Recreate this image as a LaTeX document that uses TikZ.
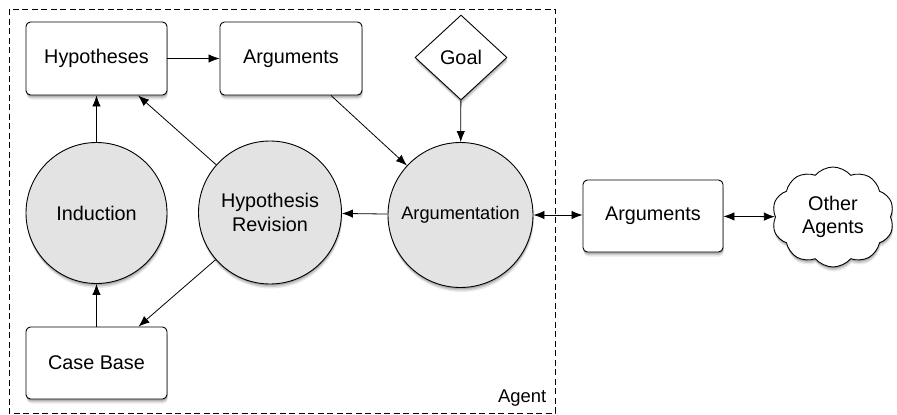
\documentclass[tikz,border=0pt]{standalone}
\usepackage{fontspec}
\setmainfont{Liberation Sans}
\usetikzlibrary{arrows.meta,shapes.geometric,shapes.symbols,shadows}
\begin{document}
\begin{tikzpicture}[x=1pt,y=-1pt,
  base/.style={draw=black,line width=0.9pt,font=\fontsize{19.8}{23.5}\selectfont,align=center,inner sep=0pt,
    drop shadow={shadow xshift=0.3pt,shadow yshift=-1.5pt,opacity=0.25,fill=black!70},
    drop shadow={shadow xshift=0.5pt,shadow yshift=-3pt,opacity=0.2,fill=black!70},
    drop shadow={shadow xshift=0.8pt,shadow yshift=-4.5pt,opacity=0.12,fill=black!70}},
  boxnode/.style={base,rectangle,rounded corners=4.5pt,fill=white,minimum width=141pt,minimum height=73pt},
  circnode/.style={base,circle,fill=black!11},
  tip/.tip={Latex[length=11pt,width=8.5pt]},
  arr/.style={-tip,line width=0.8pt},
  darr/.style={tip-tip,line width=0.8pt}]
\useasboundingbox (0,0) rectangle (897,415);
% agent frame
\draw[dashed,dash pattern=on 6pt off 3.5pt,line width=0.8pt] (9,9) rectangle (555,413);
\node[anchor=east,font=\fontsize{18.4}{22}\selectfont,inner sep=0pt] (agentlbl) at (546.5,398) {Agent};
% nodes
\node[boxnode] (hyp) at (96.5,58.5) {Hypotheses};
\node[boxnode,minimum width=142pt] (argt) at (291,58.5) {Arguments};
\node[base,diamond,fill=white,minimum width=92pt,minimum height=85pt] (goal) at (461,57.5) {Goal};
\node[circnode,minimum size=141pt] (ind) at (96.5,213) {Induction};
\node[circnode,minimum size=143pt] (hr) at (270,212.5) {Hypothesis\\Revision};
\node[circnode,minimum size=145pt,font=\fontsize{18.2}{22}\selectfont] (argn) at (460.5,215) {Argumentation};
\node[boxnode,minimum width=140pt,minimum height=72pt] (args2) at (653,216) {Arguments};
\node[base,cloud,cloud puffs=10,cloud puff arc=100,cloud ignores aspect,fill=white,minimum width=122pt,minimum height=100pt] (other) at (833,217) {Other\\Agents};
\node[boxnode,minimum height=72pt] (cb) at (96.5,363) {Case Base};
% connectors
\draw[arr] (hyp) -- (argt);
\draw[arr] (ind) -- (hyp);
\draw[arr] (cb) -- (ind);
\draw[arr] (hr) -- (hyp);
\draw[arr] (hr) -- (cb);
\draw[arr] (argn) -- (hr);
\draw[arr] (argt) -- (argn);
\draw[arr] (goal) -- (argn);
\draw[darr] (argn.east) -- (argn.east -| args2.west);
\draw[darr] (args2) -- (other);
\end{tikzpicture}
\end{document}
